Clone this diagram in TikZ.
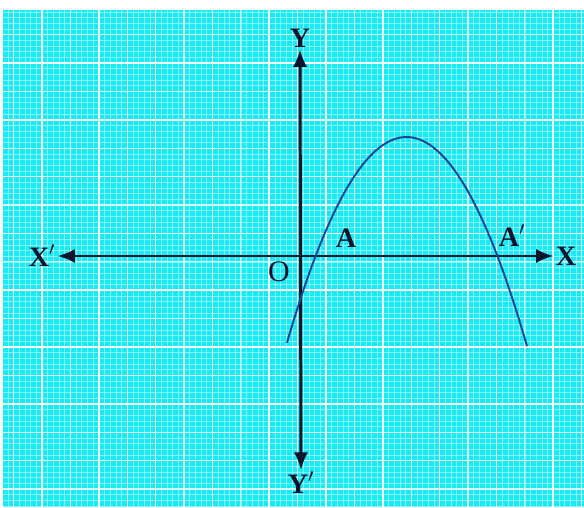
\documentclass[tikz,border=0pt]{standalone}
\usepackage{fontspec}
\setmainfont{Liberation Serif}
\usetikzlibrary{arrows.meta}
\definecolor{paper}{RGB}{25,234,245}
\definecolor{curveblue}{RGB}{28,70,150}
\definecolor{axisink}{RGB}{12,20,45}
\begin{document}
\begin{tikzpicture}[x=0.02cm,y=-0.02cm,
  axis/.style={line width=1.7pt,draw=axisink,{Latex[length=10pt,width=8pt]}-{Latex[length=10pt,width=8pt]}},
  lab/.style={font=\fontsize{16}{18}\selectfont\bfseries,text=axisink,inner sep=1pt},
  finegrid/.style={white,opacity=0.45,line width=0.3pt},
  midgrid/.style={white,opacity=0.8,line width=0.6pt},
  majorgrid/.style={white,line width=1pt}]

\useasboundingbox (0,0) rectangle (584,507);
\fill[white] (0,0) rectangle (584,507);
\fill[paper] (3,10) rectangle (584,507);

% Grille
\begin{scope}
\clip (3,10) rectangle (584,507);
\foreach \i in {-7,...,95}
  \draw[finegrid] ({42+5.68*\i},10) -- ({42+5.68*\i},507);
\foreach \i in {-9,...,78}
  \draw[finegrid] (3,{63+5.68*\i}) -- (584,{63+5.68*\i});
\foreach \i in {-1,...,19}
  \draw[midgrid] ({42+28.4*\i},10) -- ({42+28.4*\i},507);
\foreach \i in {-1,...,16}
  \draw[midgrid] (3,{63+28.4*\i}) -- (584,{63+28.4*\i});
\foreach \i in {0,...,9}
  \draw[majorgrid] ({42+56.8*\i},10) -- ({42+56.8*\i},507);
\foreach \i in {-1,...,8}
  \draw[majorgrid] (3,{63+56.8*\i}) -- (584,{63+56.8*\i});
\end{scope}

% Axes
\node[lab] (Xl) at (42,256) {X$^{\prime}$};
\node[lab] (Xr) at (566,256) {X};
\node[lab] (Yt) at (300,38) {Y};
\node[lab] (Yb) at (301,483) {Y$^{\prime}$};
\draw[axis] (Xl.east) -- (Xr.west);
\draw[axis] (Yt.south) -- (Yb.north);

\node[font=\fontsize{17}{19}\selectfont,text=axisink] (O) at (279,272) {O};

% Parabole
\draw[curveblue,line width=1.1pt,domain=-29:211,samples=80]
  plot ({316+\x},{255-0.01441*\x*(181-\x)});

\node[lab] (A) at (346,238) {A};
\node[lab] (Ap) at (512,236) {A$^{\prime}$};

\end{tikzpicture}
\end{document}
